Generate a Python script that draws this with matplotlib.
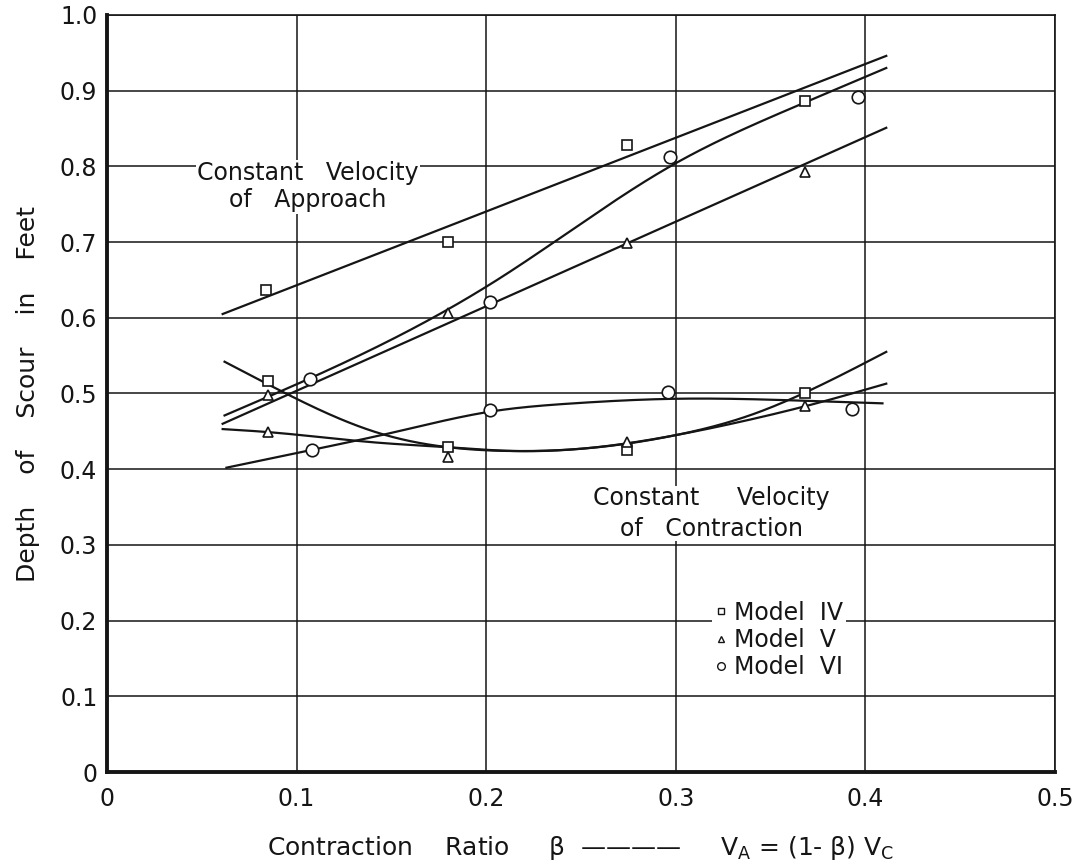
import numpy as np
import matplotlib
matplotlib.use("Agg")
import matplotlib.pyplot as plt
from matplotlib.lines import Line2D

plt.rcParams['font.family'] = ['DejaVu Sans']
plt.rcParams['mathtext.fontset'] = 'dejavusans'

# ---- data ----
x_ticks = [0, 0.1, 0.2, 0.3, 0.4, 0.5]
x_tick_labels = ["0", "0.1", "0.2", "0.3", "0.4", "0.5"]
y_ticks = [0, 0.1, 0.2, 0.3, 0.4, 0.5, 0.6, 0.7, 0.8, 0.9, 1.0]
y_tick_labels = ["0", "0.1", "0.2", "0.3", "0.4", "0.5", "0.6", "0.7", "0.8", "0.9", "1.0"]

# measured points
iv_app_x = [0.084, 0.180, 0.274, 0.368]
iv_app_y = [0.637, 0.700, 0.828, 0.886]
iv_con_x = [0.085, 0.180, 0.274, 0.368]
iv_con_y = [0.517, 0.429, 0.425, 0.500]
v_app_x = [0.085, 0.180, 0.274, 0.368]
v_app_y = [0.498, 0.606, 0.699, 0.793]
v_con_x = [0.085, 0.180, 0.274, 0.368]
v_con_y = [0.449, 0.416, 0.436, 0.483]
vi_app_x = [0.107, 0.202, 0.297, 0.396]
vi_app_y = [0.519, 0.621, 0.812, 0.892]
vi_con_x = [0.108, 0.202, 0.296, 0.393]
vi_con_y = [0.425, 0.478, 0.502, 0.480]

# fitted curves (knots)
iv_app_curve_x = [0.061, 0.411]
iv_app_curve_y = [0.605, 0.946]
v_app_curve_x = [0.061, 0.411]
v_app_curve_y = [0.460, 0.851]
vi_app_curve_x = [0.062, 0.107, 0.207, 0.297, 0.363, 0.411]
vi_app_curve_y = [0.471, 0.520, 0.652, 0.800, 0.879, 0.930]
iv_con_curve_x = [0.062, 0.085, 0.143, 0.180, 0.215, 0.250, 0.300, 0.340, 0.368, 0.411]
iv_con_curve_y = [0.542, 0.512, 0.448, 0.429, 0.424, 0.427, 0.445, 0.472, 0.501, 0.555]
v_con_curve_x = [0.061, 0.085, 0.143, 0.180, 0.215, 0.250, 0.300, 0.340, 0.368, 0.411]
v_con_curve_y = [0.453, 0.449, 0.435, 0.429, 0.424, 0.427, 0.445, 0.466, 0.483, 0.513]
vi_con_curve_x = [0.063, 0.107, 0.150, 0.202, 0.246, 0.299, 0.373, 0.409]
vi_con_curve_y = [0.402, 0.425, 0.448, 0.476, 0.487, 0.493, 0.490, 0.487]


def natural_spline(xk, yk, n=300):
    xk = np.asarray(xk, float)
    yk = np.asarray(yk, float)
    if len(xk) < 3:
        xs = np.linspace(xk[0], xk[-1], n)
        return xs, np.interp(xs, xk, yk)
    m = len(xk)
    h = np.diff(xk)
    A = np.zeros((m, m))
    b = np.zeros(m)
    A[0, 0] = 1
    A[-1, -1] = 1
    for i in range(1, m - 1):
        A[i, i - 1] = h[i - 1]
        A[i, i] = 2 * (h[i - 1] + h[i])
        A[i, i + 1] = h[i]
        b[i] = 6 * ((yk[i + 1] - yk[i]) / h[i] - (yk[i] - yk[i - 1]) / h[i - 1])
    M = np.linalg.solve(A, b)
    xs = np.linspace(xk[0], xk[-1], n)
    idx = np.clip(np.searchsorted(xk, xs) - 1, 0, m - 2)
    x0, x1 = xk[idx], xk[idx + 1]
    hh = x1 - x0
    t0 = x1 - xs
    t1 = xs - x0
    ys = (M[idx] * t0 ** 3 / (6 * hh) + M[idx + 1] * t1 ** 3 / (6 * hh)
          + (yk[idx] / hh - M[idx] * hh / 6) * t0
          + (yk[idx + 1] / hh - M[idx + 1] * hh / 6) * t1)
    return xs, ys


fig = plt.figure(figsize=(10.81, 8.66), dpi=100)
ax = fig.add_axes([107 / 1081, 1 - 772 / 866, (1055 - 107) / 1081, (772 - 15) / 866])

ink = '#151515'
fs = 17

ax.set_xlim(0, 0.5)
ax.set_ylim(0, 1.0)
ax.set_xticks(x_ticks)
ax.set_xticklabels(x_tick_labels)
ax.set_yticks(y_ticks)
ax.set_yticklabels(y_tick_labels)
ax.tick_params(length=0, labelsize=fs, colors=ink)
ax.tick_params(axis='x', pad=11)
ax.tick_params(axis='y', pad=7)
ax.grid(True, color=ink, linewidth=1.1)
ax.set_axisbelow(True)
for s in ['top', 'right']:
    ax.spines[s].set_linewidth(1.2)
    ax.spines[s].set_color(ink)
for s in ['left', 'bottom']:
    ax.spines[s].set_linewidth(2.8)
    ax.spines[s].set_color(ink)

# curves
for cx, cy in [(iv_app_curve_x, iv_app_curve_y), (v_app_curve_x, v_app_curve_y),
               (vi_app_curve_x, vi_app_curve_y), (iv_con_curve_x, iv_con_curve_y),
               (v_con_curve_x, v_con_curve_y), (vi_con_curve_x, vi_con_curve_y)]:
    xs, ys = natural_spline(cx, cy)
    ax.plot(xs, ys, color=ink, linewidth=1.6, zorder=3)

# markers
mk = dict(linestyle='none', markerfacecolor='white', markeredgecolor=ink, zorder=4,
          markeredgewidth=1.2)
ax.plot(iv_app_x, iv_app_y, marker='s', markersize=6.5, **mk)
ax.plot(iv_con_x, iv_con_y, marker='s', markersize=6.5, **mk)
ax.plot(v_app_x, v_app_y, marker='^', markersize=7, **mk)
ax.plot(v_con_x, v_con_y, marker='^', markersize=7, **mk)
ax.plot(vi_app_x, vi_app_y, marker='o', markersize=9, **mk)
ax.plot(vi_con_x, vi_con_y, marker='o', markersize=9, **mk)

# annotations
ax.text(0.106, 0.773, "Constant   Velocity\nof   Approach", ha='center', va='center',
        fontsize=fs, color=ink, linespacing=1.15, zorder=5,
        bbox=dict(facecolor='white', edgecolor='none', pad=1))
ax.text(0.3186, 0.341, "Constant     Velocity\nof   Contraction", ha='center', va='center',
        fontsize=fs, color=ink, linespacing=1.38, zorder=5,
        bbox=dict(facecolor='white', edgecolor='none', pad=0))

# legend
handles = [Line2D([], [], marker='s', markersize=4.5, markerfacecolor='white',
                  markeredgecolor=ink, linestyle='none', markeredgewidth=1.0),
           Line2D([], [], marker='^', markersize=5, markerfacecolor='white',
                  markeredgecolor=ink, linestyle='none', markeredgewidth=1.0),
           Line2D([], [], marker='o', markersize=5.5, markerfacecolor='white',
                  markeredgecolor=ink, linestyle='none', markeredgewidth=1.0)]
leg = ax.legend(handles, ["Model  IV", "Model  V", "Model  VI"], loc='center left',
                bbox_to_anchor=(0.638, 0.1744), frameon=True, fontsize=fs,
                handlelength=0.6, handletextpad=0.25, labelspacing=0.14,
                borderpad=0.1, borderaxespad=0)
leg.get_frame().set_facecolor('white')
leg.get_frame().set_edgecolor('none')
leg.get_frame().set_alpha(1)
leg.set_zorder(6)
for t in leg.get_texts():
    t.set_color(ink)

ax.set_ylabel("Depth    of    Scour    in    Feet", fontsize=18, color=ink, labelpad=14)
ax.set_xlabel("Contraction    Ratio     β  ————     V$_\\mathrm{A}$ = (1- β) V$_\\mathrm{C}$",
              fontsize=18, color=ink, labelpad=16)

fig.savefig("out.png", dpi=100, facecolor='white')
